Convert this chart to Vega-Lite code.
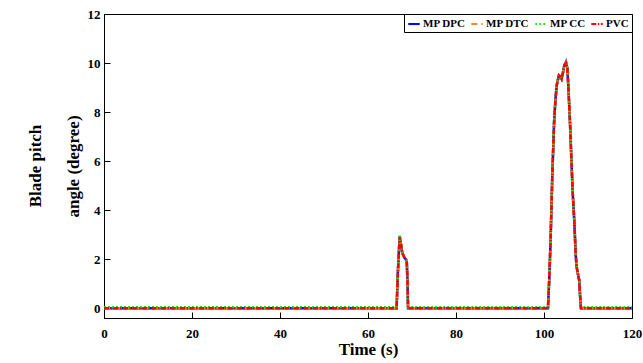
{
  "$schema": "https://vega.github.io/schema/vega-lite/v6.json",
  "width": 528,
  "height": 304,
  "autosize": {"type": "none"},
  "padding": {"left": 104, "top": 14, "right": 11, "bottom": 45},
  "background": "white",
  "title": {"text": "Blade pitch", "orient": "left", "anchor": "middle", "font": "Liberation Serif", "fontWeight": "bold", "fontSize": 17, "color": "black", "offset": 19},
  "config": {
    "view": {"stroke": "black", "strokeWidth": 1},
    "font": "Liberation Serif",
    "axis": {
      "grid": false,
      "domainColor": "black",
      "tickColor": "black",
      "tickSize": -6,
      "labelFont": "Liberation Serif",
      "labelFontWeight": "bold",
      "labelFontSize": 13,
      "labelColor": "black",
      "titleFont": "Liberation Serif",
      "titleFontWeight": "bold",
      "titleColor": "black"
    }
  },
  "data": {
    "values": [
      {"s": "MP DPC", "t": 0, "v": 0}, {"s": "MP DPC", "t": 66.5, "v": 0}, {"s": "MP DPC", "t": 66.8, "v": 1.5}, {"s": "MP DPC", "t": 67.2, "v": 2.95}, {"s": "MP DPC", "t": 67.5, "v": 2.6}, {"s": "MP DPC", "t": 67.8, "v": 2.25}, {"s": "MP DPC", "t": 68.3, "v": 2.05}, {"s": "MP DPC", "t": 68.8, "v": 1.95}, {"s": "MP DPC", "t": 69.0, "v": 1.0}, {"s": "MP DPC", "t": 69.1, "v": 0}, {"s": "MP DPC", "t": 100.9, "v": 0}, {"s": "MP DPC", "t": 101.2, "v": 1.2}, {"s": "MP DPC", "t": 101.5, "v": 2.8}, {"s": "MP DPC", "t": 101.9, "v": 5.5}, {"s": "MP DPC", "t": 102.3, "v": 7.6}, {"s": "MP DPC", "t": 102.6, "v": 8.5}, {"s": "MP DPC", "t": 102.9, "v": 9.1}, {"s": "MP DPC", "t": 103.4, "v": 9.5}, {"s": "MP DPC", "t": 103.7, "v": 9.45}, {"s": "MP DPC", "t": 104.0, "v": 9.35}, {"s": "MP DPC", "t": 104.3, "v": 9.6}, {"s": "MP DPC", "t": 104.6, "v": 9.9}, {"s": "MP DPC", "t": 105.0, "v": 10.05}, {"s": "MP DPC", "t": 105.3, "v": 9.8}, {"s": "MP DPC", "t": 105.6, "v": 8.8}, {"s": "MP DPC", "t": 105.9, "v": 7.6}, {"s": "MP DPC", "t": 106.2, "v": 6.2}, {"s": "MP DPC", "t": 106.5, "v": 4.8}, {"s": "MP DPC", "t": 106.9, "v": 3.5}, {"s": "MP DPC", "t": 107.2, "v": 2.2}, {"s": "MP DPC", "t": 107.4, "v": 1.7}, {"s": "MP DPC", "t": 107.7, "v": 1.4}, {"s": "MP DPC", "t": 108.0, "v": 1.15}, {"s": "MP DPC", "t": 108.2, "v": 0.5}, {"s": "MP DPC", "t": 108.4, "v": 0}, {"s": "MP DPC", "t": 120, "v": 0},
      {"s": "MP DTC", "t": 0, "v": 0}, {"s": "MP DTC", "t": 66.5, "v": 0}, {"s": "MP DTC", "t": 66.8, "v": 1.5}, {"s": "MP DTC", "t": 67.2, "v": 2.93}, {"s": "MP DTC", "t": 67.5, "v": 2.6}, {"s": "MP DTC", "t": 67.8, "v": 2.25}, {"s": "MP DTC", "t": 68.3, "v": 2.05}, {"s": "MP DTC", "t": 68.8, "v": 1.95}, {"s": "MP DTC", "t": 69.0, "v": 1.0}, {"s": "MP DTC", "t": 69.1, "v": 0}, {"s": "MP DTC", "t": 100.9, "v": 0}, {"s": "MP DTC", "t": 101.2, "v": 1.2}, {"s": "MP DTC", "t": 101.5, "v": 2.8}, {"s": "MP DTC", "t": 101.9, "v": 5.5}, {"s": "MP DTC", "t": 102.3, "v": 7.6}, {"s": "MP DTC", "t": 102.6, "v": 8.5}, {"s": "MP DTC", "t": 102.9, "v": 9.1}, {"s": "MP DTC", "t": 103.4, "v": 9.5}, {"s": "MP DTC", "t": 103.7, "v": 9.45}, {"s": "MP DTC", "t": 104.0, "v": 9.35}, {"s": "MP DTC", "t": 104.3, "v": 9.6}, {"s": "MP DTC", "t": 104.6, "v": 9.9}, {"s": "MP DTC", "t": 105.0, "v": 10.03}, {"s": "MP DTC", "t": 105.3, "v": 9.8}, {"s": "MP DTC", "t": 105.6, "v": 8.8}, {"s": "MP DTC", "t": 105.9, "v": 7.6}, {"s": "MP DTC", "t": 106.2, "v": 6.2}, {"s": "MP DTC", "t": 106.5, "v": 4.8}, {"s": "MP DTC", "t": 106.9, "v": 3.5}, {"s": "MP DTC", "t": 107.2, "v": 2.2}, {"s": "MP DTC", "t": 107.4, "v": 1.7}, {"s": "MP DTC", "t": 107.7, "v": 1.4}, {"s": "MP DTC", "t": 108.0, "v": 1.15}, {"s": "MP DTC", "t": 108.2, "v": 0.5}, {"s": "MP DTC", "t": 108.4, "v": 0}, {"s": "MP DTC", "t": 120, "v": 0},
      {"s": "MP CC", "t": 0, "v": 0.04}, {"s": "MP CC", "t": 66.5, "v": 0.04}, {"s": "MP CC", "t": 66.8, "v": 1.5}, {"s": "MP CC", "t": 67.2, "v": 2.95}, {"s": "MP CC", "t": 67.5, "v": 2.6}, {"s": "MP CC", "t": 67.8, "v": 2.25}, {"s": "MP CC", "t": 68.3, "v": 2.05}, {"s": "MP CC", "t": 68.8, "v": 1.95}, {"s": "MP CC", "t": 69.0, "v": 1.0}, {"s": "MP CC", "t": 69.1, "v": 0.04}, {"s": "MP CC", "t": 100.9, "v": 0.04}, {"s": "MP CC", "t": 101.2, "v": 1.2}, {"s": "MP CC", "t": 101.5, "v": 2.8}, {"s": "MP CC", "t": 101.9, "v": 5.5}, {"s": "MP CC", "t": 102.3, "v": 7.6}, {"s": "MP CC", "t": 102.6, "v": 8.5}, {"s": "MP CC", "t": 102.9, "v": 9.1}, {"s": "MP CC", "t": 103.4, "v": 9.5}, {"s": "MP CC", "t": 103.7, "v": 9.45}, {"s": "MP CC", "t": 104.0, "v": 9.35}, {"s": "MP CC", "t": 104.3, "v": 9.6}, {"s": "MP CC", "t": 104.6, "v": 9.9}, {"s": "MP CC", "t": 105.0, "v": 10.05}, {"s": "MP CC", "t": 105.3, "v": 9.8}, {"s": "MP CC", "t": 105.6, "v": 8.8}, {"s": "MP CC", "t": 105.9, "v": 7.6}, {"s": "MP CC", "t": 106.2, "v": 6.2}, {"s": "MP CC", "t": 106.5, "v": 4.8}, {"s": "MP CC", "t": 106.9, "v": 3.5}, {"s": "MP CC", "t": 107.2, "v": 2.2}, {"s": "MP CC", "t": 107.4, "v": 1.7}, {"s": "MP CC", "t": 107.7, "v": 1.4}, {"s": "MP CC", "t": 108.0, "v": 1.15}, {"s": "MP CC", "t": 108.2, "v": 0.5}, {"s": "MP CC", "t": 108.4, "v": 0.04}, {"s": "MP CC", "t": 120, "v": 0.04},
      {"s": "PVC", "t": 0, "v": 0}, {"s": "PVC", "t": 66.5, "v": 0}, {"s": "PVC", "t": 66.8, "v": 1.5}, {"s": "PVC", "t": 67.2, "v": 2.9}, {"s": "PVC", "t": 67.5, "v": 2.6}, {"s": "PVC", "t": 67.8, "v": 2.25}, {"s": "PVC", "t": 68.3, "v": 2.05}, {"s": "PVC", "t": 68.8, "v": 1.95}, {"s": "PVC", "t": 69.0, "v": 1.0}, {"s": "PVC", "t": 69.1, "v": 0}, {"s": "PVC", "t": 100.9, "v": 0}, {"s": "PVC", "t": 101.2, "v": 1.2}, {"s": "PVC", "t": 101.5, "v": 2.8}, {"s": "PVC", "t": 101.9, "v": 5.5}, {"s": "PVC", "t": 102.3, "v": 7.6}, {"s": "PVC", "t": 102.6, "v": 8.5}, {"s": "PVC", "t": 102.9, "v": 9.1}, {"s": "PVC", "t": 103.4, "v": 9.5}, {"s": "PVC", "t": 103.7, "v": 9.45}, {"s": "PVC", "t": 104.0, "v": 9.35}, {"s": "PVC", "t": 104.3, "v": 9.6}, {"s": "PVC", "t": 104.6, "v": 9.9}, {"s": "PVC", "t": 105.0, "v": 10.0}, {"s": "PVC", "t": 105.3, "v": 9.8}, {"s": "PVC", "t": 105.6, "v": 8.8}, {"s": "PVC", "t": 105.9, "v": 7.6}, {"s": "PVC", "t": 106.2, "v": 6.2}, {"s": "PVC", "t": 106.5, "v": 4.8}, {"s": "PVC", "t": 106.9, "v": 3.5}, {"s": "PVC", "t": 107.2, "v": 2.2}, {"s": "PVC", "t": 107.4, "v": 1.7}, {"s": "PVC", "t": 107.7, "v": 1.4}, {"s": "PVC", "t": 108.0, "v": 1.15}, {"s": "PVC", "t": 108.2, "v": 0.5}, {"s": "PVC", "t": 108.4, "v": 0}, {"s": "PVC", "t": 120, "v": 0}
    ]
  },
  "mark": {"type": "line", "strokeWidth": 2.5, "clip": true},
  "encoding": {
    "x": {
      "field": "t", "type": "quantitative",
      "scale": {"domain": [0, 120], "nice": false},
      "axis": {"values": [0, 20, 40, 60, 80, 100, 120], "title": "Time (s)", "titleFontSize": 17, "labelPadding": 15, "titlePadding": 1, "labelFlush": false}
    },
    "y": {
      "field": "v", "type": "quantitative",
      "scale": {"domain": [-0.4, 12], "nice": false},
      "axis": {"values": [0, 2, 4, 6, 8, 10, 12], "title": "angle (degree)", "titleFontSize": 17, "titlePadding": 5, "labelPadding": 10}
    },
    "color": {
      "field": "s", "type": "nominal",
      "scale": {"domain": ["MP DPC", "MP DTC", "MP CC", "PVC"], "range": ["#0000ff", "#f28a1a", "#22dd22", "#ff0000"]},
      "legend": {
        "title": null, "orient": "top-right", "offset": 0, "direction": "horizontal", "columns": 4,
        "strokeColor": "black", "fillColor": "white", "padding": 3, "cornerRadius": 0,
        "symbolType": "stroke", "symbolSize": 130, "symbolStrokeWidth": 2,
        "labelFont": "Liberation Serif", "labelFontWeight": "bold", "labelFontSize": 11, "labelColor": "black",
        "labelOffset": 2, "columnPadding": 1
      }
    },
    "strokeDash": {
      "field": "s", "type": "nominal",
      "scale": {"domain": ["MP DPC", "MP DTC", "MP CC", "PVC"], "range": [[1, 0], [6, 4], [2, 2], [5, 1.5, 1.5, 1.5]]},
      "legend": null
    }
  }
}
